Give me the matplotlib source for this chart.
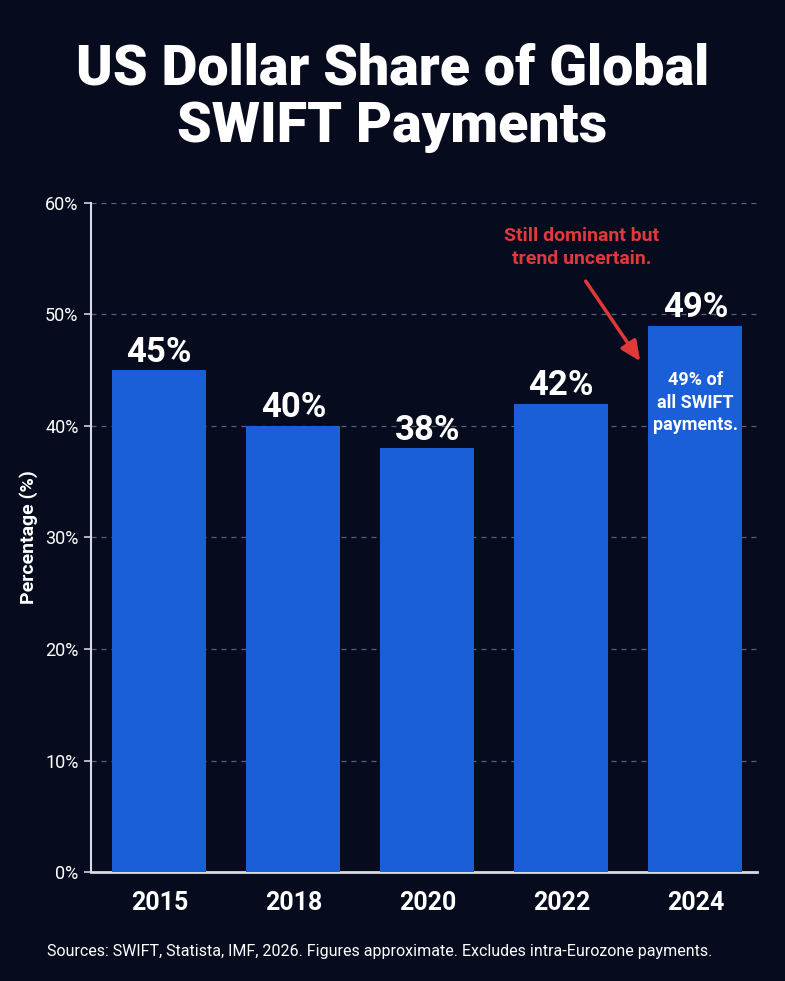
import matplotlib
matplotlib.use("Agg")
import matplotlib.pyplot as plt
from matplotlib import font_manager

years = ["2015", "2018", "2020", "2022", "2024"]
shares = [45, 40, 38, 42, 49]
value_labels = ["45%", "40%", "38%", "42%", "49%"]
y_ticks = [0, 10, 20, 30, 40, 50, 60]
y_tick_labels = ["0%", "10%", "20%", "30%", "40%", "50%", "60%"]

avail = {f.name for f in font_manager.fontManager.ttflist}
fams = [f for f in ["Liberation Sans Narrow", "DejaVu Sans Condensed", "Roboto", "DejaVu Sans"] if f in avail]
plt.rcParams['font.family'] = fams

BG = "#060c1e"
BAR = "#1a5fd8"
RED = "#e0393a"

fig = plt.figure(figsize=(7.85, 9.81), dpi=100, facecolor=BG)
ax = fig.add_axes([0.1159, 0.1111, 0.8484, 0.682])
ax.set_facecolor(BG)

x = list(range(len(years)))
ax.bar(x, shares, width=0.7, color=BAR, zorder=3)
ax.set_xlim(-0.51, 4.46)
ax.set_ylim(0, 60)
ax.set_yticks(y_ticks)
ax.set_yticklabels(y_tick_labels, color="white", fontsize=13)
ax.set_xticks(x)
ax.set_xticklabels(years, color="white", fontsize=18, fontweight="bold")
ax.tick_params(axis="x", length=0, pad=14)
ax.tick_params(axis="y", length=5, width=1.2, color="#cfd3dc", pad=4)
ax.grid(axis="y", color="#5a6378", linestyle=(0, (4, 4)), linewidth=0.9, zorder=0)
for s in ["top", "right"]:
    ax.spines[s].set_visible(False)
ax.spines["left"].set_color("#d8dbe2")
ax.spines["left"].set_linewidth(1.5)
ax.spines["bottom"].set_color("#d8dbe2")
ax.spines["bottom"].set_linewidth(2)
ax.set_ylabel("Percentage (%)", color="white", fontsize=14, fontweight="bold", labelpad=5)

for xi, v, lab in zip(x, shares, value_labels):
    ax.text(xi, v + 0.15, lab, ha="center", va="bottom", color="white",
            fontsize=25, fontweight="bold", zorder=4)

ax.text(4, 42.1, "49% of\nall SWIFT\npayments.", ha="center", va="center",
        color="white", fontsize=13, fontweight="bold", linespacing=1.35, zorder=4)

ax.text(3.15, 56.0, "Still dominant but\ntrend uncertain.", ha="center", va="center",
        color=RED, fontsize=14, fontweight="bold", linespacing=1.3, zorder=4)
ax.annotate("", xy=(3.6, 45.6), xytext=(3.17, 53.2),
            arrowprops=dict(arrowstyle="-|>,head_length=1.2,head_width=0.55",
                            color=RED, lw=2.5), zorder=4)

fig.text(0.5, 0.930, "US Dollar Share of Global", ha="center", va="center",
         color="white", fontsize=40, fontweight="heavy")
fig.text(0.5, 0.871, "SWIFT Payments", ha="center", va="center",
         color="white", fontsize=40, fontweight="heavy")
fig.text(0.484, 0.030, "Sources: SWIFT, Statista, IMF, 2026. Figures approximate. Excludes intra-Eurozone payments.",
         ha="center", va="center", color="white", fontsize=11.5)

fig.savefig("out.png", dpi=100, facecolor=BG)
